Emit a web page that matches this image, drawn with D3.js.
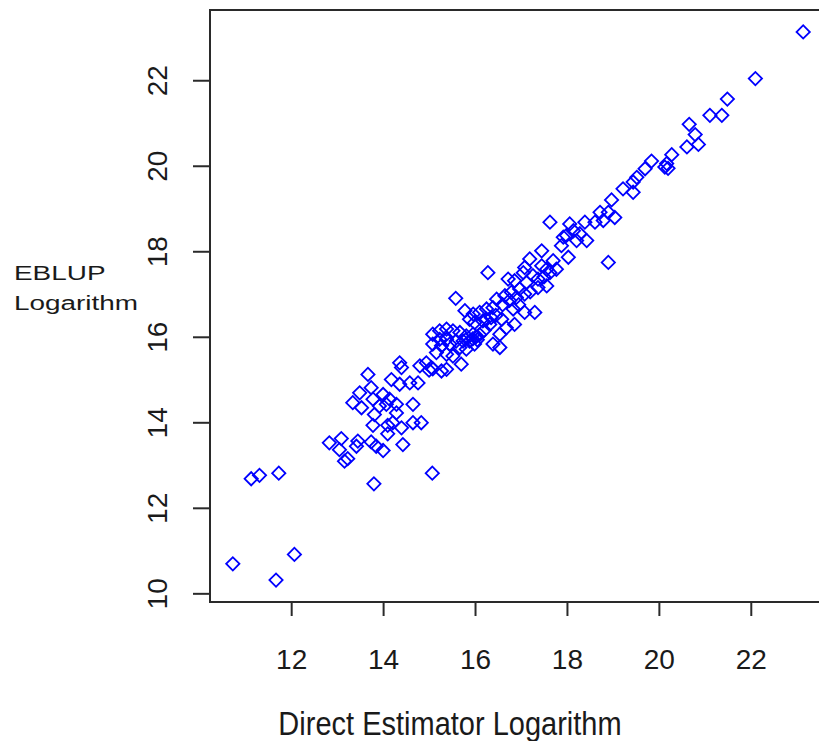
<!DOCTYPE html>
<html>
<head>
    <meta charset="utf-8">
    <title>EBLUP vs direct estimator</title>
    <style>
    body { margin: 0; background: white; }
    text { font-family: "Liberation Sans", Arial, sans-serif; fill: #1a1a1a; }
    .axis line { stroke: #2a2a2a; stroke-width: 2; }
    .pt { fill: none; stroke: #0000ff; stroke-width: 1.8; }
    </style>
</head>
<body>
    <svg width="819" height="741"></svg>
    <script src="https://d3js.org/d3.v7.min.js"></script>
    <script>
        // direct estimator (log) and EBLUP (log)
        var directLog = [23.14, 22.10, 21.49, 21.11, 21.37, 20.66, 20.79, 20.86, 20.61, 20.28,
            20.17, 20.13, 20.20, 19.84, 19.70, 19.52, 19.44, 19.22, 19.44, 18.97,
            18.72, 18.90, 19.04, 18.79, 18.39, 18.61, 17.63, 18.06, 18.14, 17.99,
            18.28, 18.43, 18.21, 17.92, 18.90, 17.45, 17.19, 17.70, 18.03, 17.45,
            17.08, 17.26, 17.63, 17.12, 17.56, 17.37, 17.88, 17.77, 17.56, 17.05,
            17.37, 16.28, 16.72, 16.86, 16.97, 16.79, 16.65, 16.90, 17.08, 16.47,
            16.39, 16.25, 16.10, 16.83, 17.08, 17.30, 16.25, 16.32, 16.17, 16.58,
            16.68, 16.86, 16.54, 16.39, 16.54, 15.58, 15.78, 15.96, 15.88, 15.99,
            15.08, 15.23, 15.38, 15.52, 15.67, 15.81, 15.96, 15.88, 15.74, 15.59,
            15.38, 15.23, 15.08, 15.27, 15.45, 15.67, 15.81, 15.99, 15.16, 15.38,
            15.52, 15.70, 15.38, 15.27, 15.05, 15.00, 15.08, 14.80, 14.94, 14.36,
            14.40, 14.58, 14.76, 14.18, 14.36, 13.67, 13.74, 13.49, 13.34, 13.53,
            13.78, 14.00, 14.14, 14.29, 14.29, 14.07, 13.92, 13.81, 14.65, 13.78,
            14.10, 14.21, 14.40, 14.10, 14.65, 14.83, 12.83, 13.09, 13.05, 13.42,
            13.45, 13.74, 13.85, 14.00, 14.43, 13.23, 13.16, 11.13, 11.31, 11.73,
            13.80, 15.07, 10.73, 11.67, 12.07, 15.95, 16.02, 16.05, 16.10, 16.20,
            16.35, 16.45, 16.60, 16.75, 16.95, 17.20, 17.50];
        var eblupLog = [23.13, 22.04, 21.56, 21.18, 21.18, 20.97, 20.73, 20.50, 20.44, 20.26,
            20.05, 19.97, 19.94, 20.11, 19.93, 19.73, 19.62, 19.46, 19.38, 19.20,
            18.91, 18.91, 18.79, 18.72, 18.68, 18.68, 18.68, 18.64, 18.48, 18.37,
            18.41, 18.25, 18.25, 18.33, 17.74, 18.01, 17.82, 17.78, 17.86, 17.66,
            17.62, 17.43, 17.50, 17.27, 17.19, 17.35, 18.13, 17.58, 17.58, 17.50,
            17.15, 17.50, 17.35, 17.31, 17.12, 17.04, 16.96, 16.92, 17.00, 16.88,
            16.68, 16.65, 16.57, 16.65, 16.57, 16.57, 16.41, 16.29, 16.37, 16.41,
            16.21, 16.29, 16.06, 15.83, 15.75, 16.90, 16.61, 16.53, 16.41, 16.33,
            16.06, 16.14, 16.18, 16.14, 16.10, 16.02, 16.06, 15.90, 15.90, 15.90,
            15.94, 15.94, 15.83, 15.79, 15.83, 15.75, 15.71, 15.83, 15.63, 15.59,
            15.55, 15.36, 15.24, 15.20, 15.28, 15.22, 15.25, 15.32, 15.39, 15.39,
            15.28, 14.92, 14.92, 15.00, 14.89, 15.12, 14.81, 14.69, 14.46, 14.34,
            14.54, 14.65, 14.54, 14.42, 14.22, 14.42, 14.38, 14.18, 14.42, 13.93,
            13.93, 13.99, 13.87, 13.73, 13.99, 13.99, 13.52, 13.62, 13.36, 13.44,
            13.56, 13.54, 13.44, 13.34, 13.48, 13.15, 13.09, 12.68, 12.76, 12.81,
            12.56, 12.81, 10.69, 10.31, 10.91, 15.95, 16.00, 15.93, 16.05, 16.15,
            16.45, 16.50, 16.75, 16.85, 16.75, 17.05, 17.40];
        var xTicks = [12, 14, 16, 18, 20, 22];
        var yTicks = [10, 12, 14, 16, 18, 20, 22];

        var marginLeft = 210, marginTop = 10, plotW = 616, plotH = 592;

        // R style: pad the data range by 4% on each side
        function pad(ext) {
            var d = (ext[1] - ext[0]) * 0.04;
            return [ext[0] - d, ext[1] + d];
        }
        var x = d3.scaleLinear().domain(pad(d3.extent(directLog))).range([marginLeft, marginLeft + plotW]);
        var y = d3.scaleLinear().domain(pad(d3.extent(eblupLog))).range([marginTop + plotH, marginTop]);

        var svg = d3.select("svg");
        svg.append("rect").attr("width", 819).attr("height", 741).attr("fill", "white");

        var pts = directLog.map(function(d, i) { return {x: d, y: eblupLog[i]}; });
        var diamond = d3.symbol().type(d3.symbolSquare).size(88);
        svg.append("g")
            .selectAll("path")
            .data(pts)
            .enter()
            .append("path")
            .attr("class", "pt")
            .attr("d", diamond)
            .attr("transform", d => "translate(" + x(d.x) + "," + y(d.y) + ") rotate(45)");

        var xAxis = svg.append("g")
            .attr("class", "axis")
            .attr("transform", "translate(0," + (marginTop + plotH) + ")")
            .call(d3.axisBottom(x).tickValues(xTicks).tickSize(14));
        xAxis.select(".domain").remove();
        xAxis.selectAll("text")
            .attr("y", 67).attr("dy", null)
            .style("font-size", "28px");

        var yAxis = svg.append("g")
            .attr("class", "axis")
            .attr("transform", "translate(" + marginLeft + ",0)")
            .call(d3.axisLeft(y).tickValues(yTicks).tickSize(17));
        yAxis.select(".domain").remove();
        yAxis.selectAll("text")
            .attr("x", null).attr("dy", null)
            .attr("text-anchor", "middle")
            .attr("transform", "translate(-43,0) rotate(-90)")
            .style("font-size", "28px");

        svg.append("rect")
            .attr("x", marginLeft).attr("y", marginTop)
            .attr("width", plotW).attr("height", plotH)
            .attr("fill", "none")
            .attr("stroke", "#2a2a2a")
            .attr("stroke-width", 2);

        svg.append("text")
            .attr("transform", "translate(450,735) scale(1,1.15)")
            .attr("text-anchor", "middle")
            .style("font-size", "29px")
            .text("Direct Estimator Logarithm");

        var ylab = svg.append("g").attr("transform", "translate(14,280) scale(1.33,1)");
        ylab.append("text").style("font-size", "21px").text("EBLUP");
        ylab.append("text").attr("y", 30).style("font-size", "21px").text("Logarithm");
    </script>
</body>
</html>
